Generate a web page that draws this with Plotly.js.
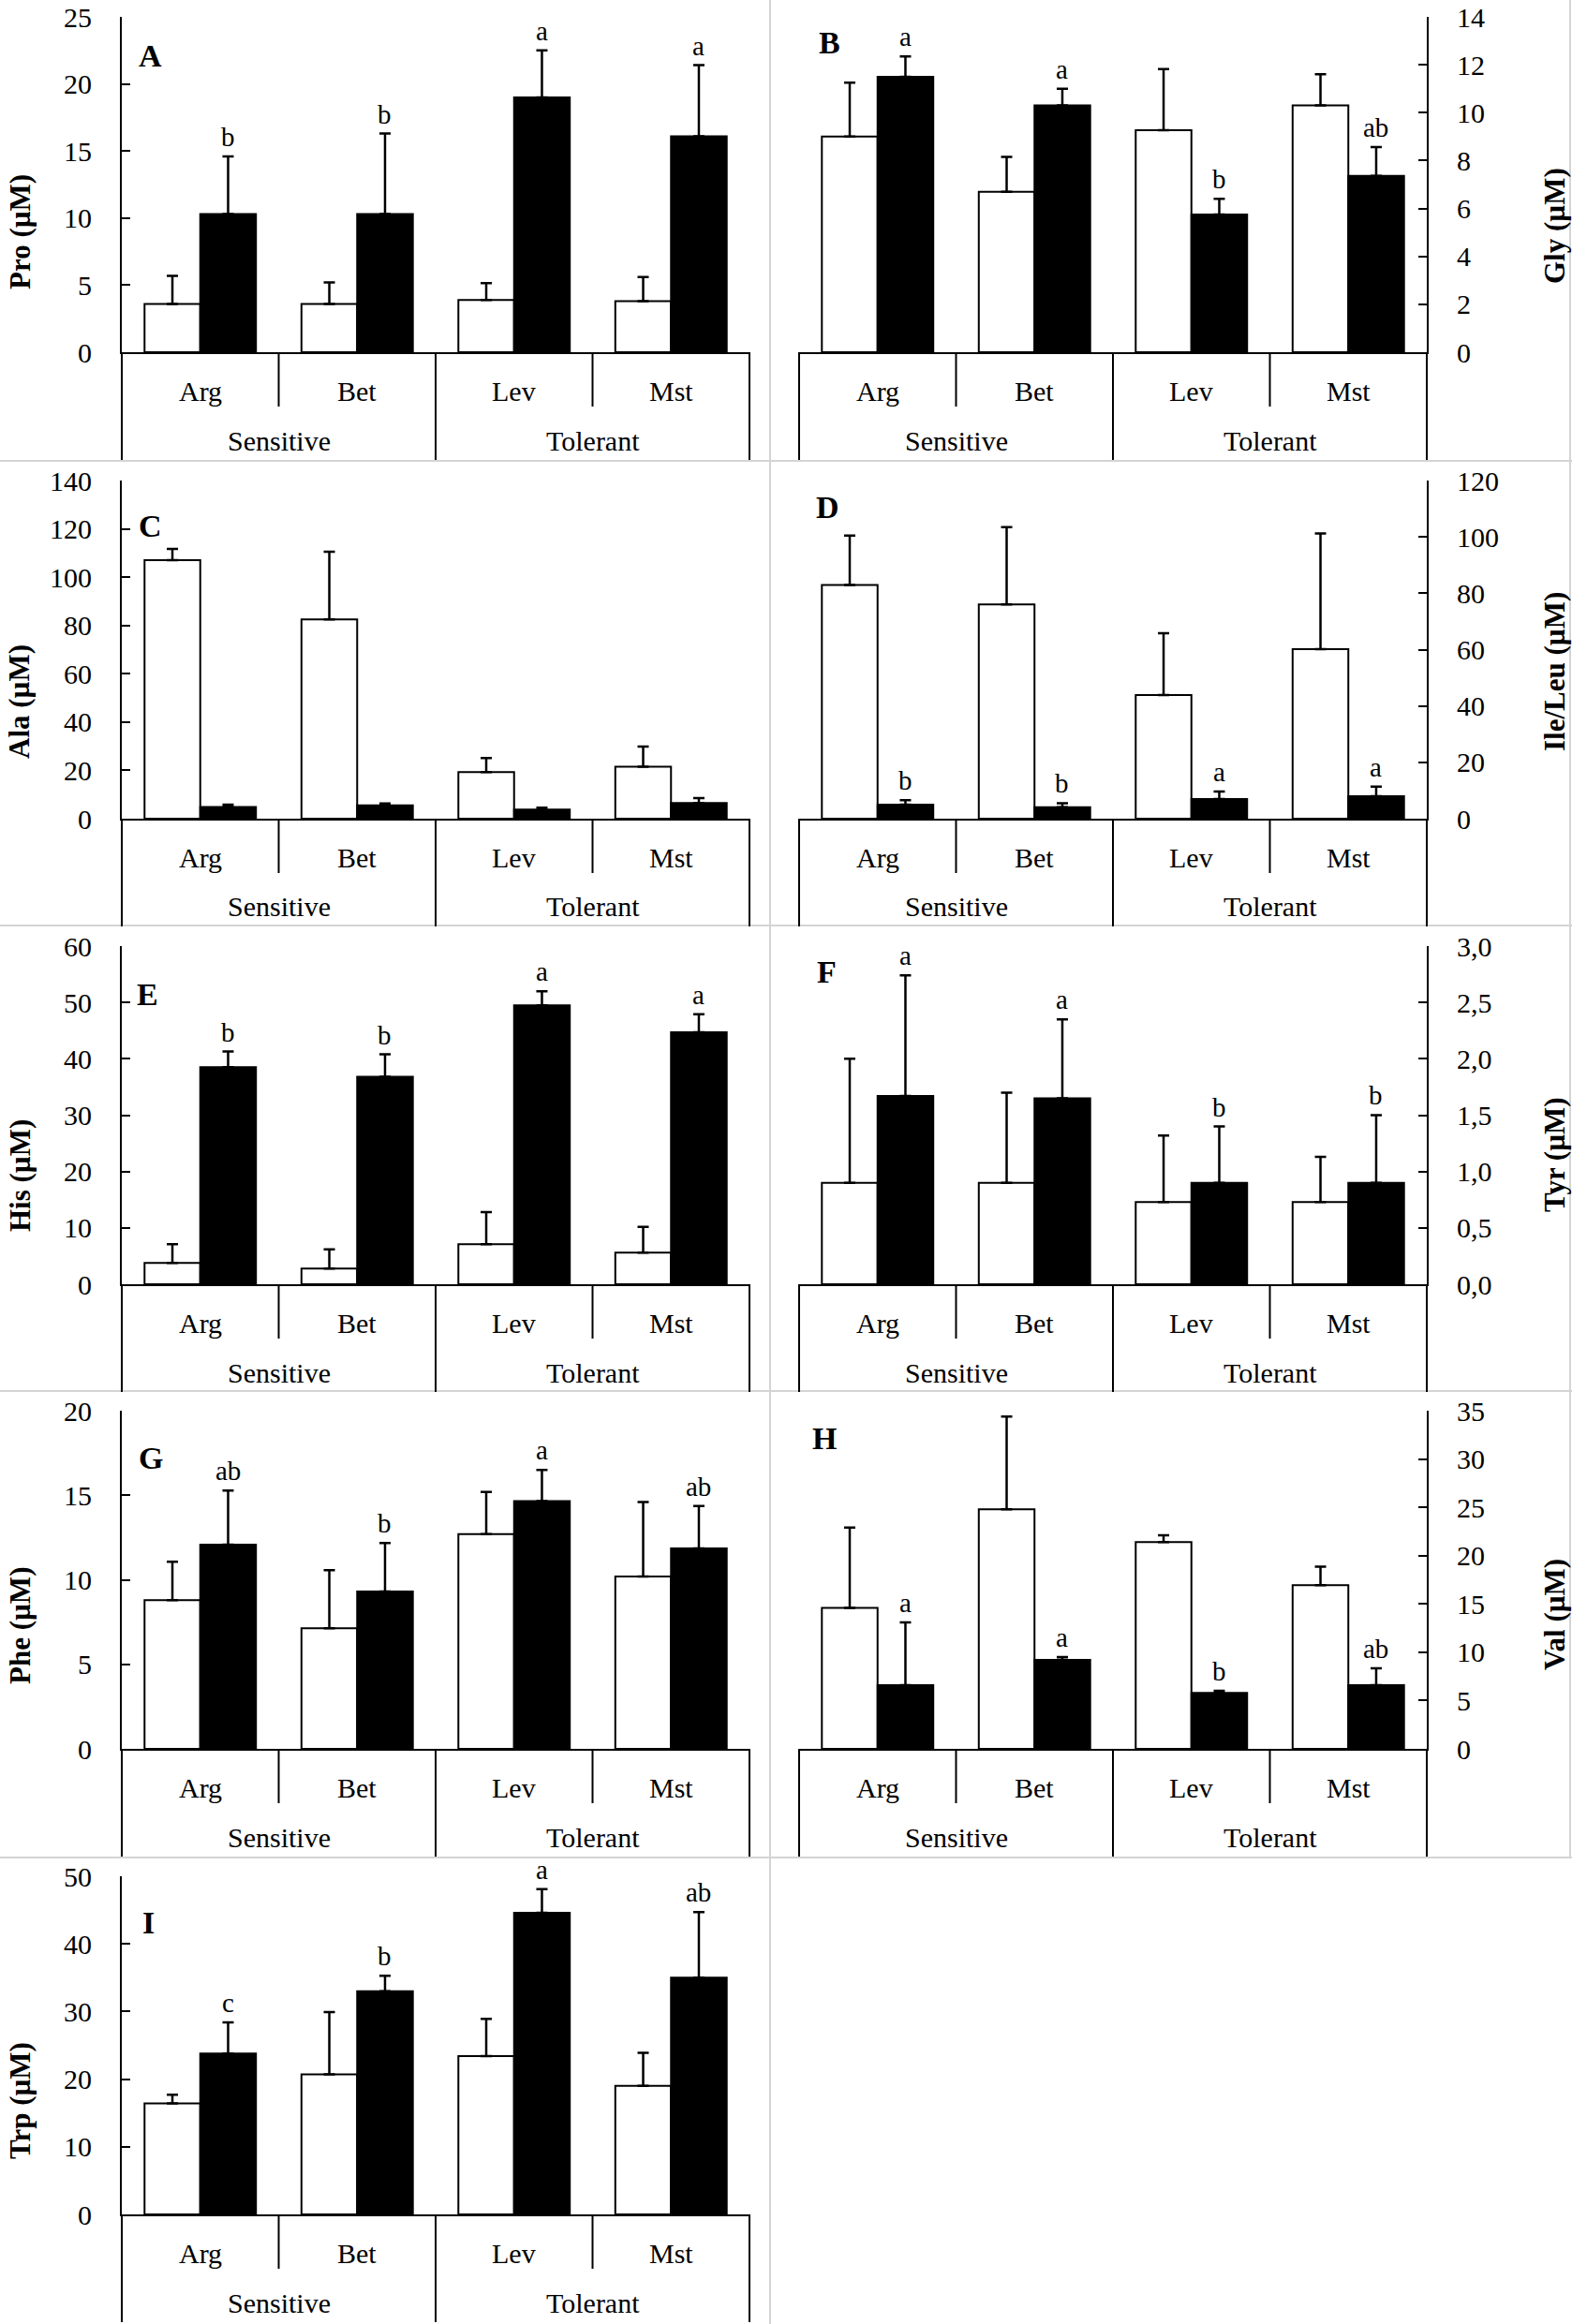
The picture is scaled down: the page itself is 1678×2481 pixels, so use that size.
<!DOCTYPE html>
<html>
<head>
<meta charset="utf-8">
<script src="https://cdn.plot.ly/plotly-3.0.1.min.js"></script>
<style>
html,body{margin:0;padding:0;background:#fff;}
#chart{width:1678px;height:2481px;}
</style>
</head>
<body>
<div id="chart"></div>
<script>
// ---------------- DATA ----------------
const categories = ['Arg', 'Bet', 'Lev', 'Mst'];
const groups = ['Sensitive', 'Tolerant'];

// A - Pro
const proWhite = [3.6, 3.6, 3.9, 3.8];
const proWhiteErr = [2.1, 1.6, 1.25, 1.8];
const proBlack = [10.3, 10.3, 19.0, 16.1];
const proBlackErr = [4.3, 6.0, 3.5, 5.3];
const proLetters = ['b', 'b', 'a', 'a'];
const proTicks = [0, 5, 10, 15, 20, 25];
const proTickText = ['0', '5', '10', '15', '20', '25'];

// B - Gly
const glyWhite = [9.0, 6.7, 9.27, 10.3];
const glyWhiteErr = [2.25, 1.45, 2.55, 1.3];
const glyBlack = [11.5, 10.3, 5.75, 7.36];
const glyBlackErr = [0.85, 0.7, 0.65, 1.2];
const glyLetters = ['a', 'a', 'b', 'ab'];
const glyTicks = [0, 2, 4, 6, 8, 10, 12, 14];
const glyTickText = ['0', '2', '4', '6', '8', '10', '12', '14'];

// C - Ala
const alaWhite = [107, 82.5, 19.3, 21.5];
const alaWhiteErr = [4.7, 28, 5.8, 8.4];
const alaBlack = [4.8, 5.5, 3.8, 6.5];
const alaBlackErr = [1.0, 0.8, 0.8, 2.0];
const alaLetters = ['', '', '', ''];
const alaTicks = [0, 20, 40, 60, 80, 100, 120, 140];
const alaTickText = ['0', '20', '40', '60', '80', '100', '120', '140'];

// D - Ile/Leu
const ileWhite = [82.9, 76, 43.9, 60.2];
const ileWhiteErr = [17.6, 27.5, 21.9, 41];
const ileBlack = [5.0, 4.1, 7.0, 8.0];
const ileBlackErr = [1.6, 1.4, 2.6, 3.4];
const ileLetters = ['b', 'b', 'a', 'a'];
const ileTicks = [0, 20, 40, 60, 80, 100, 120];
const ileTickText = ['0', '20', '40', '60', '80', '100', '120'];

// E - His
const hisWhite = [3.8, 2.8, 7.1, 5.6];
const hisWhiteErr = [3.3, 3.4, 5.7, 4.6];
const hisBlack = [38.5, 36.8, 49.5, 44.7];
const hisBlackErr = [2.8, 4.0, 2.5, 3.2];
const hisLetters = ['b', 'b', 'a', 'a'];
const hisTicks = [0, 10, 20, 30, 40, 50, 60];
const hisTickText = ['0', '10', '20', '30', '40', '50', '60'];

// F - Tyr
const tyrWhite = [0.9, 0.9, 0.73, 0.73];
const tyrWhiteErr = [1.1, 0.8, 0.59, 0.4];
const tyrBlack = [1.67, 1.65, 0.9, 0.9];
const tyrBlackErr = [1.07, 0.7, 0.5, 0.6];
const tyrLetters = ['a', 'a', 'b', 'b'];
const tyrTicks = [0, 0.5, 1.0, 1.5, 2.0, 2.5, 3.0];
const tyrTickText = ['0,0', '0,5', '1,0', '1,5', '2,0', '2,5', '3,0'];

// G - Phe
const pheWhite = [8.79, 7.13, 12.7, 10.2];
const pheWhiteErr = [2.27, 3.44, 2.5, 4.4];
const pheBlack = [12.08, 9.31, 14.65, 11.86];
const pheBlackErr = [3.2, 2.86, 1.85, 2.5];
const pheLetters = ['ab', 'b', 'a', 'ab'];
const pheTicks = [0, 5, 10, 15, 20];
const pheTickText = ['0', '5', '10', '15', '20'];

// H - Val
const valWhite = [14.6, 24.8, 21.4, 16.95];
const valWhiteErr = [8.3, 9.6, 0.7, 1.9];
const valBlack = [6.6, 9.2, 5.8, 6.6];
const valBlackErr = [6.5, 0.3, 0.2, 1.75];
const valLetters = ['a', 'a', 'b', 'ab'];
const valTicks = [0, 5, 10, 15, 20, 25, 30, 35];
const valTickText = ['0', '5', '10', '15', '20', '25', '30', '35'];

// I - Trp
const trpWhite = [16.4, 20.7, 23.4, 19.0];
const trpWhiteErr = [1.3, 9.2, 5.5, 4.9];
const trpBlack = [23.8, 33.0, 44.6, 35.0];
const trpBlackErr = [4.6, 2.3, 3.5, 9.7];
const trpLetters = ['c', 'b', 'a', 'ab'];
const trpTicks = [0, 10, 20, 30, 40, 50];
const trpTickText = ['0', '10', '20', '30', '40', '50'];

// ---------------- LAYOUT HELPERS ----------------
const W = 1678, H = 2481;
const PX = x => x / W;
const PY = y => 1 - y / H;
const FONT = '"Liberation Serif", "Times New Roman", "DejaVu Serif", serif';
const BARGAP = 0.29;

const cols = [{x0: 130, x1: 800, side: 'left', titleX: 21},
              {x0: 853, x1: 1523, side: 'right', titleX: 1659}];
const rows = [{top: 18, zero: 376}, {top: 513, zero: 874}, {top: 1010, zero: 1371},
              {top: 1506, zero: 1867}, {top: 2003, zero: 2364}];

const panels = [
  {label: 'A', title: 'Pro (µM)', col: 0, row: 0, white: proWhite, whiteErr: proWhiteErr, black: proBlack, blackErr: proBlackErr, letters: proLetters, ticks: proTicks, tickText: proTickText, titleY: 248, lab: [160, 60]},
  {label: 'B', title: 'Gly (µM)', col: 1, row: 0, white: glyWhite, whiteErr: glyWhiteErr, black: glyBlack, blackErr: glyBlackErr, letters: glyLetters, ticks: glyTicks, tickText: glyTickText, titleY: 241, lab: [885, 45]},
  {label: 'C', title: 'Ala (µM)', col: 0, row: 1, white: alaWhite, whiteErr: alaWhiteErr, black: alaBlack, blackErr: alaBlackErr, letters: alaLetters, ticks: alaTicks, tickText: alaTickText, titleY: 749, lab: [160, 561]},
  {label: 'D', title: 'Ile/Leu (µM)', col: 1, row: 1, white: ileWhite, whiteErr: ileWhiteErr, black: ileBlack, blackErr: ileBlackErr, letters: ileLetters, ticks: ileTicks, tickText: ileTickText, titleY: 717, lab: [883, 541]},
  {label: 'E', title: 'His (µM)', col: 0, row: 2, white: hisWhite, whiteErr: hisWhiteErr, black: hisBlack, blackErr: hisBlackErr, letters: hisLetters, ticks: hisTicks, tickText: hisTickText, titleY: 1255, lab: [157, 1062]},
  {label: 'F', title: 'Tyr (µM)', col: 1, row: 2, white: tyrWhite, whiteErr: tyrWhiteErr, black: tyrBlack, blackErr: tyrBlackErr, letters: tyrLetters, ticks: tyrTicks, tickText: tyrTickText, titleY: 1233, lab: [882, 1037]},
  {label: 'G', title: 'Phe (µM)', col: 0, row: 3, white: pheWhite, whiteErr: pheWhiteErr, black: pheBlack, blackErr: pheBlackErr, letters: pheLetters, ticks: pheTicks, tickText: pheTickText, titleY: 1736, lab: [161, 1556]},
  {label: 'H', title: 'Val (µM)', col: 1, row: 3, white: valWhite, whiteErr: valWhiteErr, black: valBlack, blackErr: valBlackErr, letters: valLetters, ticks: valTicks, tickText: valTickText, titleY: 1724, lab: [880, 1535]},
  {label: 'I', title: 'Trp (µM)', col: 0, row: 4, white: trpWhite, whiteErr: trpWhiteErr, black: trpBlack, blackErr: trpBlackErr, letters: trpLetters, ticks: trpTicks, tickText: trpTickText, titleY: 2243, lab: [158, 2052]}
];

const traces = [];
const layout = {
  width: W, height: H,
  margin: {l: 0, r: 0, t: 0, b: 0, pad: 0},
  paper_bgcolor: '#ffffff', plot_bgcolor: '#ffffff',
  showlegend: false,
  barmode: 'group', bargap: BARGAP, bargroupgap: 0,
  font: {family: FONT, size: 30, color: '#000'},
  annotations: [], shapes: []
};

// light gray panel borders
const gray = '#d4d4d4';
[492, 988, 1485, 1983].forEach(y => {
  layout.shapes.push({type: 'line', xref: 'paper', yref: 'paper', x0: 0, x1: 1, y0: PY(y), y1: PY(y), line: {color: gray, width: 2}});
});
layout.shapes.push({type: 'line', xref: 'paper', yref: 'paper', x0: PX(822), x1: PX(822), y0: 0, y1: 1, line: {color: gray, width: 2}});
layout.shapes.push({type: 'line', xref: 'paper', yref: 'paper', x0: PX(1676), x1: PX(1676), y0: PY(1983), y1: 1, line: {color: gray, width: 2}});

panels.forEach((p, i) => {
  const n = i + 1;
  const sfx = n === 1 ? '' : String(n);
  const xid = 'x' + sfx, yid = 'y' + sfx;
  const c = cols[p.col], r = rows[p.row];
  const zeros = p.white.map(() => 0);

  traces.push({
    type: 'bar', x: categories, y: p.white, xaxis: xid, yaxis: yid,
    name: 'white', hoverinfo: 'none',
    marker: {color: '#ffffff', line: {color: '#000000', width: 2}},
    error_y: {type: 'data', symmetric: false, array: p.whiteErr, arrayminus: zeros, color: '#000', thickness: 2.5, width: 6}
  });
  traces.push({
    type: 'bar', x: categories, y: p.black, xaxis: xid, yaxis: yid,
    name: 'black', hoverinfo: 'none',
    marker: {color: '#000000', line: {color: '#000000', width: 2}},
    error_y: {type: 'data', symmetric: false, array: p.blackErr, arrayminus: zeros, color: '#000', thickness: 2.5, width: 6}
  });

  layout['xaxis' + sfx] = {
    domain: [PX(c.x0), PX(c.x1)], anchor: yid, type: 'category',
    range: [-0.5, categories.length - 0.5], showticklabels: false, ticks: '',
    showline: true, linecolor: '#000', linewidth: 2, showgrid: false, zeroline: false, fixedrange: true
  };
  layout['yaxis' + sfx] = {
    domain: [PY(r.zero), PY(r.top)], anchor: xid, side: c.side,
    range: [0, p.ticks[p.ticks.length - 1]], tickmode: 'array', tickvals: p.ticks, ticktext: p.tickText,
    ticks: 'inside', ticklen: 9, tickwidth: 2, tickcolor: '#000',
    showline: true, linecolor: '#000', linewidth: 2, showgrid: false, zeroline: false,
    tickfont: {family: FONT, size: 30, color: '#000'}, ticklabelstandoff: 24,
    ticklabeloverflow: 'allow', fixedrange: true
  };

  // multi-level category box
  for (let k = 0; k <= 4; k++) {
    const xx = c.x0 + k * (c.x1 - c.x0) / 4;
    const long = (k % 2 === 0);
    layout.shapes.push({type: 'line', xref: 'paper', yref: 'paper', x0: PX(xx), x1: PX(xx),
      y0: PY(r.zero), y1: PY(r.zero + (long ? 115 : 58)), line: {color: '#000', width: 2}});
  }
  categories.forEach(cat => {
    layout.annotations.push({xref: xid, yref: 'paper', x: cat, y: PY(r.zero + 41), text: cat,
      showarrow: false, xanchor: 'center', yanchor: 'middle', font: {family: FONT, size: 30, color: '#000'}});
  });
  groups.forEach((g, gi) => {
    layout.annotations.push({xref: 'paper', yref: 'paper', x: PX(c.x0 + (gi * 2 + 1) * (c.x1 - c.x0) / 4), y: PY(r.zero + 94), text: g,
      showarrow: false, xanchor: 'center', yanchor: 'middle', font: {family: FONT, size: 30, color: '#000'}});
  });

  // significance letters above black bars
  const off = (1 - BARGAP) / 4;
  p.letters.forEach((t, k) => {
    if (!t) return;
    layout.annotations.push({xref: xid, yref: yid, x: k + off, y: p.black[k] + p.blackErr[k], text: t,
      showarrow: false, xanchor: 'center', yanchor: 'bottom', yshift: 3, font: {family: FONT, size: 29, color: '#000'}});
  });

  // axis title
  layout.annotations.push({xref: 'paper', yref: 'paper', x: PX(c.titleX), y: PY(p.titleY), text: '<b>' + p.title + '</b>',
    textangle: -90, showarrow: false, xanchor: 'center', yanchor: 'middle', font: {family: FONT, size: 31, color: '#000'}});
  // panel label
  layout.annotations.push({xref: 'paper', yref: 'paper', x: PX(p.lab[0]), y: PY(p.lab[1]), text: '<b>' + p.label + '</b>',
    showarrow: false, xanchor: 'center', yanchor: 'middle', font: {family: FONT, size: 34, color: '#000'}});
});

Plotly.newPlot('chart', traces, layout, {staticPlot: true, displayModeBar: false});
</script>
</body>
</html>
